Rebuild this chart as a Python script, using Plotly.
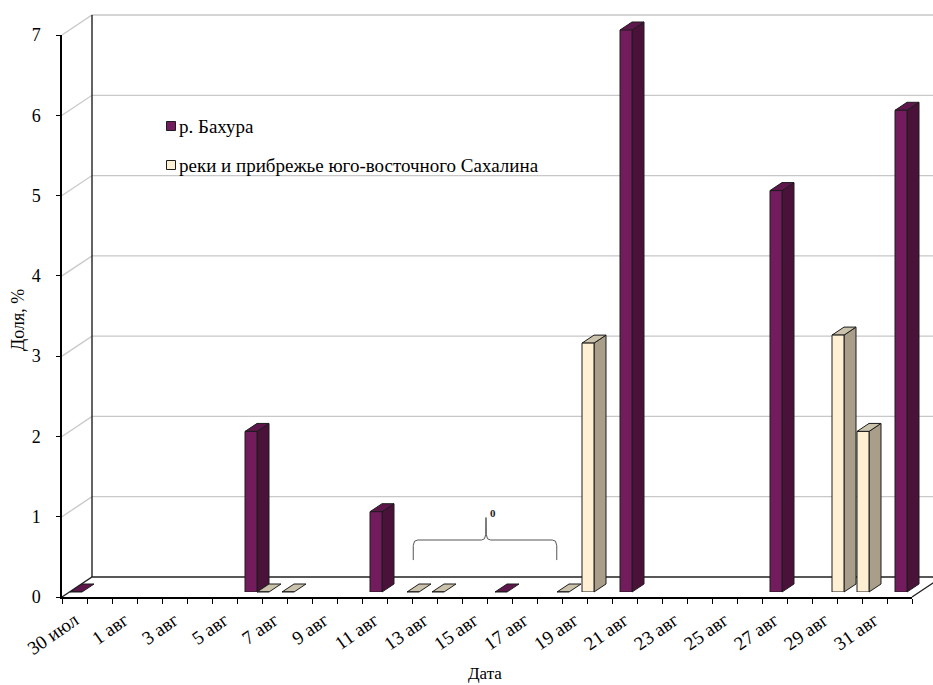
import plotly.graph_objects as go

# ---- data -------------------------------------------------------------
dates = [
    "30 июл", "31 июл", "1 авг", "2 авг", "3 авг", "4 авг", "5 авг", "6 авг",
    "7 авг", "8 авг", "9 авг", "10 авг", "11 авг", "12 авг", "13 авг", "14 авг",
    "15 авг", "16 авг", "17 авг", "18 авг", "19 авг", "20 авг", "21 авг", "22 авг",
    "23 авг", "24 авг", "25 авг", "26 авг", "27 авг", "28 авг", "29 авг", "30 авг",
    "31 авг", "1 сен",
]
# share, %; None = no sample that day
bakhura = [0, None, None, None, None, None, None, 2, None, None, None, None, 1, None,
           None, None, None, 0, None, None, None, None, 7, None, None, None, None, None,
           5, None, None, None, None, 6]
sakhalin = [None, None, None, None, None, None, None, 0, 0, None, None, None, None, 0,
            0, None, None, None, None, 0, 3.1, None, None, None, None, None, None, None,
            None, None, 3.2, 2.0, None, None]
tick_labels = dates[::2]
y_ticks = [0, 1, 2, 3, 4, 5, 6, 7]

series_names = ["р. Бахура", "реки и прибрежье юго-восточного Сахалина"]

# ---- layout geometry (pixels) -----------------------------------------
W, H = 933, 685
AX_L, AX_R, AX_B, AX_T = 62, 912, 597, 35     # front frame of the box
N = len(dates)
YMAX = 7
PX_CAT = (AX_R - AX_L) / N
PX_VAL = (AX_B - AX_T) / YMAX
FLOOR_DX, FLOOR_DY = 30, 20                    # oblique depth of the box
DX, DY = FLOOR_DX / PX_CAT, FLOOR_DY / PX_VAL  # same depth in data units
Z0, Z1 = 0.25, 0.65                            # bar front / back depth
BAR_W = 0.48

FONT = "Liberation Serif"
STYLES = [
    dict(front="#721B5D", side="#4A1139", top="#5E174C", offset=-BAR_W),
    dict(front="#FFF0D4", side="#A89E8A", top="#CBC2AC", offset=0.0),
]
EDGE = "#1c1c1c"
GRID = "#C8C8C8"


def proj(x, y, z):
    """Oblique projection of a point at depth z (0 = front, 1 = back wall)."""
    return x + z * DX, y + z * DY


def polygon(pts, fill):
    xs = [p[0] for p in pts] + [pts[0][0]]
    ys = [p[1] for p in pts] + [pts[0][1]]
    return go.Scatter(x=xs, y=ys, mode="lines", fill="toself", fillcolor=fill,
                      line=dict(color=EDGE, width=1), hoverinfo="skip",
                      showlegend=False, xaxis="x", yaxis="y")


fig = go.Figure()

# ---- walls, floor and gridlines --------------------------------------
x_lo, x_hi = -0.5, N - 0.5
gx, gy = [], []
for v in y_ticks[1:]:
    for p in (proj(x_lo, v, 0), proj(x_lo, v, 1), proj(x_hi, v, 1)):
        gx.append(p[0]); gy.append(p[1])
    gx.append(None); gy.append(None)
fig.add_trace(go.Scatter(x=gx, y=gy, mode="lines", line=dict(color=GRID, width=1.3),
                         hoverinfo="skip", showlegend=False, xaxis="x", yaxis="y"))

fx, fy = [], []
for seg in [
    [proj(x_lo, 0, 0), proj(x_lo, 0, 1), proj(x_hi, 0, 1), proj(x_hi, 0, 0)],
    [proj(x_lo, 0, 1), proj(x_lo, YMAX, 1)],
]:
    for p in seg:
        fx.append(p[0]); fy.append(p[1])
    fx.append(None); fy.append(None)
fig.add_trace(go.Scatter(x=fx, y=fy, mode="lines", line=dict(color="#222222", width=1.4),
                         hoverinfo="skip", showlegend=False, xaxis="x", yaxis="y"))

# ---- side and top faces of the columns, left to right ----------------
for k in range(N):
    for vals, st in zip((bakhura, sakhalin), STYLES):
        h = vals[k]
        if h is None:
            continue
        a = k + st["offset"]
        b = a + BAR_W
        if h > 0:
            fig.add_trace(polygon([proj(b, 0, Z0), proj(b, 0, Z1),
                                   proj(b, h, Z1), proj(b, h, Z0)], st["side"]))
        fig.add_trace(polygon([proj(a, h, Z0), proj(b, h, Z0),
                               proj(b, h, Z1), proj(a, h, Z1)], st["top"]))

# ---- front axes: an empty trace keeps this subplot in the figure -----
fig.add_trace(go.Scatter(x=[x_lo, x_hi], y=[0, YMAX], mode="none", hoverinfo="skip",
                         showlegend=False, xaxis="x2", yaxis="y2"))

# ---- front faces of the columns --------------------------------------
for name, vals, st in zip(series_names, (bakhura, sakhalin), STYLES):
    fig.add_trace(go.Bar(x=list(range(N)), y=vals, name=name, offset=st["offset"],
                         width=BAR_W, marker=dict(color=st["front"],
                                                  line=dict(color=EDGE, width=1)),
                         hoverinfo="skip", showlegend=False, xaxis="x3", yaxis="y3"))

# ---- brace over the run of zero values --------------------------------
BRACE_X = (13.55, 16.46, 19.29)
BRACE_Y = (0.46, 0.71, 0.99)
bx0, bxc, bx1 = BRACE_X
by0, byb, byp = BRACE_Y
r = 0.18
brace_x = [bx0, bx0, bx0 + 0.05, bx0 + r, bxc - r, bxc - 0.06, bxc - 0.01, bxc,
           bxc + 0.01, bxc + 0.06, bxc + r, bx1 - r, bx1 - 0.05, bx1, bx1]
brace_y = [by0, byb - 0.07, byb - 0.015, byb, byb, byb + 0.015, byb + 0.07, byp,
           byb + 0.07, byb + 0.015, byb, byb, byb - 0.015, byb - 0.07, by0]
fig.add_trace(go.Scatter(x=brace_x, y=brace_y, mode="lines",
                         line=dict(color="#555555", width=1), hoverinfo="skip",
                         showlegend=False, xaxis="x", yaxis="y"))
fig.add_annotation(x=bxc + 0.27, y=byp + 0.06, xref="x", yref="y", text="<b>0</b>",
                   showarrow=False, font=dict(family=FONT, size=11, color="#222222"))

# ---- legend ------------------------------------------------------------
LEG_X, LEG_Y, LEG_STEP, LEG_SQ = 171, 126, 39, 9
for i, (name, st) in enumerate(zip(series_names, STYLES)):
    cy = LEG_Y + i * LEG_STEP
    fig.add_shape(type="rect", xref="paper", yref="paper",
                  x0=(LEG_X - LEG_SQ / 2) / W, x1=(LEG_X + LEG_SQ / 2) / W,
                  y0=1 - (cy + LEG_SQ / 2) / H, y1=1 - (cy - LEG_SQ / 2) / H,
                  fillcolor=st["front"], line=dict(color=EDGE, width=1))
    fig.add_annotation(x=(LEG_X + 6) / W, y=1 - cy / H, xref="paper", yref="paper",
                       xanchor="left", yanchor="middle", text=name, showarrow=False,
                       font=dict(family=FONT, size=19, color="black"))

# ---- axis titles -----------------------------------------------------
fig.add_annotation(x=18 / W, y=1 - 320 / H, xref="paper", yref="paper", text="Доля, %",
                   textangle=-90, showarrow=False, xanchor="center", yanchor="middle",
                   font=dict(family=FONT, size=18, color="black"))
fig.add_annotation(x=485 / W, y=1 - 673 / H, xref="paper", yref="paper", text="Дата",
                   showarrow=False, xanchor="center", yanchor="middle",
                   font=dict(family=FONT, size=17, color="black"))

# ---- axes ------------------------------------------------------------
hidden = dict(visible=False, showgrid=False, zeroline=False, fixedrange=True,
              automargin=False)
fig.update_layout(
    width=W, height=H, margin=dict(l=0, r=0, t=0, b=0, autoexpand=False),
    paper_bgcolor="white", plot_bgcolor="rgba(0,0,0,0)",
    barmode="overlay", showlegend=False,
    xaxis=dict(hidden, domain=[0, 1],
               range=[x_lo - AX_L / PX_CAT, x_lo + (W - AX_L) / PX_CAT]),
    yaxis=dict(hidden, domain=[0, 1],
               range=[-(H - AX_B) / PX_VAL, YMAX + AX_T / PX_VAL]),
    xaxis2=dict(domain=[AX_L / W, AX_R / W], range=[x_lo, x_hi], anchor="y2",
                automargin=False,
                showline=True, linecolor="black", linewidth=1.5, showgrid=False,
                zeroline=False, tickmode="array", tickvals=list(range(0, N, 2)),
                ticktext=tick_labels, ticks="", tickangle=-35,
                ticklabelstandoff=3,
                tickfont=dict(family=FONT, size=19, color="black"),
                minor=dict(tickmode="array", tickvals=[k - 0.5 for k in range(N + 1)],
                           ticks="outside", ticklen=5, tickcolor="black",
                           tickwidth=1, showgrid=False),
                fixedrange=True),
    yaxis2=dict(domain=[(H - AX_B) / H, (H - AX_T) / H], range=[0, YMAX], anchor="x2",
                automargin=False,
                showline=True, linecolor="black", linewidth=1.5, showgrid=False,
                zeroline=False, tickmode="array", tickvals=y_ticks, ticks="outside",
                ticklen=4, tickcolor="black", ticklabelstandoff=12,
                tickfont=dict(family=FONT, size=18, color="black"), fixedrange=True),
    xaxis3=dict(hidden, domain=[(AX_L + Z0 * FLOOR_DX) / W, (AX_R + Z0 * FLOOR_DX) / W],
                range=[x_lo, x_hi], anchor="y3"),
    yaxis3=dict(hidden, domain=[(H - AX_B + Z0 * FLOOR_DY) / H,
                                (H - AX_T + Z0 * FLOOR_DY) / H],
                range=[0, YMAX], anchor="x3"),
)

fig.write_html("out.html")
